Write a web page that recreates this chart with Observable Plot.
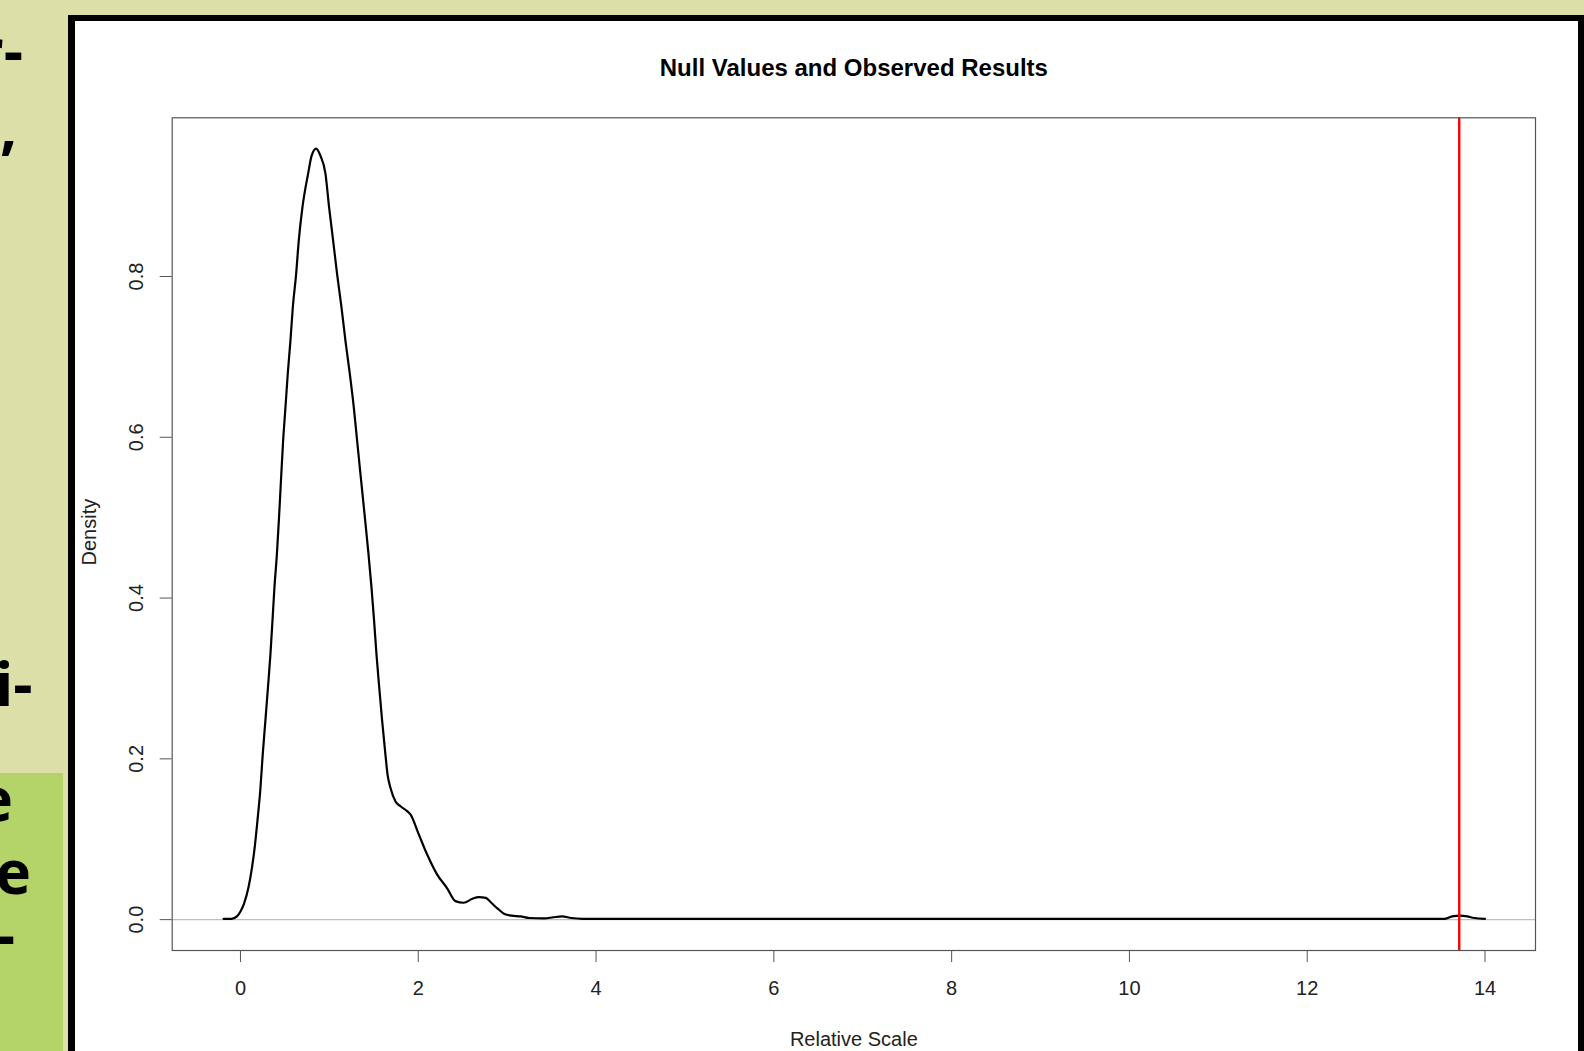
<!DOCTYPE html>
<html>
<head>
<meta charset="utf-8">
<script src="https://cdn.jsdelivr.net/npm/d3@7"></script>
<script src="https://cdn.jsdelivr.net/npm/@observablehq/plot@0.6"></script>
<style>
  html, body { margin: 0; padding: 0; }
  body { width: 1584px; height: 1051px; overflow: hidden; position: relative; background: #dcdfa8; }
  #greenbox { position: absolute; left: 0; top: 773px; width: 63px; height: 300px; background: #b4d46a; }
  #frame { position: absolute; left: 68px; top: 15px; width: 1516px; height: 1100px; box-sizing: border-box;
           border-left: 7px solid #000; border-top: 6px solid #000; border-right: 6px solid #000; background: #fff; }
  #frags { position: absolute; left: 0; top: 0; }
  #chart { position: absolute; left: 75px; top: 21px; }
</style>
</head>
<body>
<div id="greenbox"></div>
<svg id="frags" width="68" height="1051" font-family="'Open Sans', sans-serif" font-weight="bold" font-size="60" fill="#000">
  <text x="23" y="73" text-anchor="end">r-</text>
  <text x="17" y="148" text-anchor="end">,</text>
  <text x="32.5" y="706" text-anchor="end">i-</text>
  <text x="13" y="821" text-anchor="end">e</text>
  <text x="31" y="894" text-anchor="end">ce</text>
  <text x="15" y="957" text-anchor="end">-</text>
</svg>
<div id="frame"></div>
<div id="chart"></div>
<script>
// Density of null values (Relative Scale)
const nullX = [-0.19, -0.10, -0.04, 0.0, 0.04, 0.09, 0.13, 0.16, 0.19, 0.225, 0.25, 0.28, 0.31, 0.337, 0.36, 0.382, 0.41, 0.432,
  0.455, 0.48, 0.506, 0.532, 0.562, 0.589, 0.626, 0.656, 0.697, 0.761, 0.80, 0.851, 0.90, 0.956, 0.997, 1.042, 1.087, 1.136,
  1.181, 1.23, 1.275, 1.312, 1.35, 1.395, 1.44, 1.474, 1.503, 1.53, 1.56, 1.594, 1.631, 1.655, 1.687, 1.744, 1.80, 1.875,
  1.912, 2.006, 2.10, 2.213, 2.325, 2.418, 2.51, 2.61, 2.68, 2.76, 2.83, 2.90, 2.97, 3.05, 3.15, 3.25, 3.42, 3.52, 3.62,
  3.72, 3.85, 5.0, 7.0, 9.0, 11.0, 13.0, 13.55, 13.63, 13.72, 13.80, 13.88, 14.0];
const nullDensity = [0.001, 0.001, 0.004, 0.010, 0.020, 0.040, 0.065, 0.090, 0.122, 0.164, 0.205, 0.247, 0.290, 0.330, 0.372,
  0.413, 0.455, 0.497, 0.545, 0.596, 0.637, 0.679, 0.720, 0.762, 0.803, 0.845, 0.886, 0.928, 0.950, 0.959, 0.950, 0.928,
  0.886, 0.845, 0.803, 0.762, 0.720, 0.679, 0.637, 0.596, 0.554, 0.505, 0.455, 0.413, 0.372, 0.330, 0.290, 0.247, 0.205,
  0.180, 0.164, 0.147, 0.141, 0.135, 0.131, 0.106, 0.081, 0.056, 0.039, 0.023, 0.021, 0.026, 0.028, 0.027, 0.020, 0.013,
  0.007, 0.005, 0.004, 0.002, 0.0015, 0.003, 0.004, 0.002, 0.001, 0.001, 0.001, 0.001, 0.001, 0.001, 0.001, 0.004, 0.005,
  0.004, 0.002, 0.001];
const observed = [13.71];
const xTicks = [0, 2, 4, 6, 8, 10, 12, 14];
const yTicks = [0.0, 0.2, 0.4, 0.6, 0.8];
const titleText = "Null Values and Observed Results";
const xLabel = "Relative Scale";
const yLabel = "Density";

const data = nullX.map((x, i) => ({x, y: nullDensity[i]}));

const chart = Plot.plot({
  width: 1503,
  height: 1030,
  marginLeft: 96.7,
  marginRight: 43,
  marginTop: 96.3,
  marginBottom: 101,
  style: {fontFamily: "'Liberation Sans', Arial, sans-serif", fontSize: "20px", background: "white", color: "#222"},
  x: {domain: [-0.768, 14.568]},
  y: {domain: [-0.0384, 0.9974]},
  marks: [
    Plot.ruleY([0], {stroke: "#bebebe", strokeWidth: 1.2}),
    Plot.line(data, {x: "x", y: "y", stroke: "#000", strokeWidth: 2.2, curve: "monotone-x"}),
    Plot.ruleX(observed, {stroke: "#ff0000", strokeWidth: 2.4}),
    Plot.frame({stroke: "#555", strokeWidth: 1.2}),
    Plot.axisX({ticks: xTicks, tickSize: 12, tickPadding: 18, fontSize: 20, stroke: "#555", fill: "#222", label: null, tickFormat: d => String(d)}),
    Plot.axisY({ticks: yTicks, tickSize: 12, tickFormat: () => "", stroke: "#555", label: null}),
    Plot.text(yTicks, {y: d => d, text: d => d.toFixed(1), frameAnchor: "left", textAnchor: "middle", dx: -36, rotate: -90, fontSize: 20, fill: "#222", lineAnchor: "middle"}),
    Plot.text([yLabel], {text: d => d, frameAnchor: "left", textAnchor: "middle", dx: -83, dy: -2, rotate: -90, fontSize: 20, fill: "#222", lineAnchor: "middle"}),
    Plot.text([xLabel], {text: d => d, frameAnchor: "bottom", textAnchor: "middle", dy: 89, fontSize: 20, fill: "#222", lineAnchor: "middle"}),
    Plot.text([titleText], {text: d => d, frameAnchor: "top", textAnchor: "middle", dy: -49, fontSize: 24, fontWeight: "bold", fill: "#000", lineAnchor: "middle"})
  ]
});
document.getElementById("chart").appendChild(chart);
</script>
</body>
</html>
